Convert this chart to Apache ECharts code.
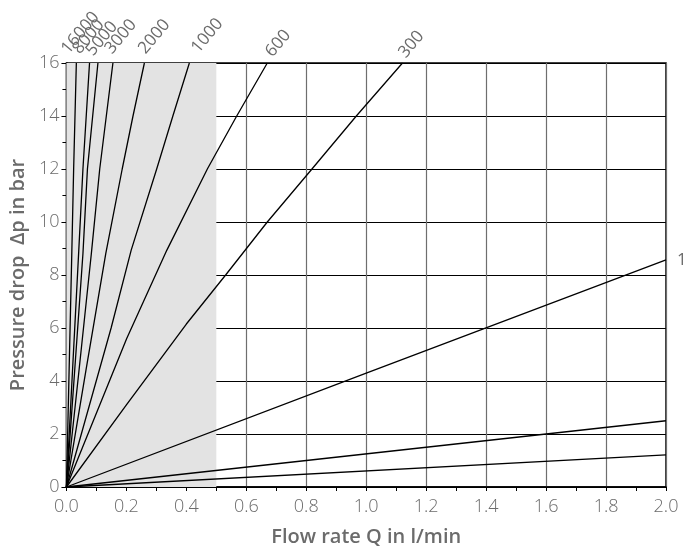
<!DOCTYPE html>
<html><head><meta charset="utf-8">
<script src="https://cdn.jsdelivr.net/npm/echarts@6/dist/echarts.min.js"></script>
<style>html,body{margin:0;padding:0;background:#fff}#c{width:683px;height:554px}</style>
</head><body><div id="c"></div>
<script>
// Viscosity labels of the curves
const curveLabels = ['16000', '8000', '5000', '3000', '2000', '1000', '600', '300', '100', '', ''];
// Flow rate Q (l/min) and pressure drop (bar), one pair per curve
const q16000 = [0, 0.018, 0.024, 0.033];
const dp16000 = [0, 8.9, 12, 16];
const q8000 = [0, 0.041, 0.055, 0.077];
const dp8000 = [0, 8.9, 12, 16];
const q5000 = [0, 0.055, 0.07, 0.105];
const dp5000 = [0, 8.8, 12, 16];
const q3000 = [0, 0.04, 0.083, 0.111, 0.155];
const dp3000 = [0, 4.2, 8.8, 12, 16];
const q2000 = [0, 0.065, 0.131, 0.186, 0.222, 0.26];
const dp2000 = [0, 4.4, 8.8, 12, 14, 16];
const q1000 = [0, 0.149, 0.216, 0.301, 0.355, 0.41];
const dp1000 = [0, 6, 8.94, 12, 14, 16];
const q600 = [0, 0.201, 0.335, 0.47, 0.568, 0.67];
const dp600 = [0, 5.6, 8.94, 12, 14, 16];
const q300 = [0, 0.2, 0.4, 0.531, 0.67, 0.819, 0.967, 1.121];
const dp300 = [0, 3.1, 6.15, 8, 10, 12, 14, 16];
const q100 = [0, 1.0, 2.0];
const dp100 = [0, 4.3, 8.57];
const q30 = [0, 2.0];
const dp30 = [0, 2.5];
const q10 = [0, 2.0];
const dp10 = [0, 1.21];
// Shaded range on the flow axis
const shadedRange = [0, 0.5];

const curvesQ = [q16000, q8000, q5000, q3000, q2000, q1000, q600, q300, q100, q30, q10];
const curvesDp = [dp16000, dp8000, dp5000, dp3000, dp2000, dp1000, dp600, dp300, dp100, dp30, dp10];

// label styling (offsets from the curve end, in pixels)
const labelOffsets = [[-5,-6],[-7,-6],[-2,-4],[2,-6],[4,-6],[12,-7],[8,-3],[6,-2],[11,0],[0,0],[0,0]];

const FONT = '"Open Sans", Lato, sans-serif';
const GREY = '#6b6b6b';

const series = curvesQ.map((qs, k) => {
  const dps = curvesDp[k];
  const data = qs.map((q, i) => {
    const item = { value: [q, dps[i]] };
    if (i === qs.length - 1 && curveLabels[k]) {
      const right = k === 8;
      item.label = {
        show: true,
        formatter: curveLabels[k],
        position: labelOffsets[k],
        rotate: right ? 0 : 50,
        align: 'left',
        verticalAlign: right ? 'middle' : 'bottom',
        color: GREY,
        fontSize: 17,
        fontFamily: FONT
      };
    }
    return item;
  });
  return {
    type: 'line',
    data: data,
    symbol: 'circle',
    symbolSize: 0,
    showSymbol: true,
    clip: false,
    silent: true,
    lineStyle: { color: '#000', width: 1.3 },
    itemStyle: { color: '#000' },
    label: { show: false },
    z: 3
  };
});

series.push({
  type: 'line',
  data: [],
  z: -1,
  silent: true,
  markArea: {
    silent: true,
    itemStyle: { color: '#e3e3e3' },
    data: [[{ xAxis: shadedRange[0] }, { xAxis: shadedRange[1] }]]
  }
});

const chart = echarts.init(document.getElementById('c'), null, { renderer: 'canvas' });
chart.setOption({
  animation: false,
  backgroundColor: '#fff',
  grid: { left: 66, right: 17, top: 63, bottom: 67, show: true, borderColor: '#000', borderWidth: 1.5, backgroundColor: 'transparent', z: 0 },
  xAxis: {
    type: 'value', min: 0, max: 2, interval: 0.2,
    name: 'Flow rate Q in l/min', nameLocation: 'middle', nameGap: 40,
    nameTextStyle: { color: GREY, fontSize: 20, fontWeight: 600, fontFamily: FONT },
    axisLine: { lineStyle: { color: '#000', width: 1.5 } },
    axisTick: { show: true, inside: false, length: 4, lineStyle: { color: '#000' } },
    minorTick: { show: true, splitNumber: 2, length: 4, lineStyle: { color: '#000' } },
    axisLabel: { color: GREY, fontSize: 18, fontWeight: 300, fontFamily: FONT, margin: 11, formatter: v => v.toFixed(1) },
    splitLine: { show: true, lineStyle: { color: '#6e6e6e', width: 1.2 } }
  },
  yAxis: {
    type: 'value', min: 0, max: 16, interval: 2,
    name: 'Pressure drop  Δp in bar', nameLocation: 'middle', nameGap: 33, nameRotate: 90,
    nameTextStyle: { color: GREY, fontSize: 20, fontWeight: 600, fontFamily: FONT },
    axisLine: { lineStyle: { color: '#000', width: 1.5 } },
    axisTick: { show: true, inside: false, length: 5, lineStyle: { color: '#000' } },
    minorTick: { show: true, splitNumber: 2, length: 4, lineStyle: { color: '#000' } },
    axisLabel: { color: GREY, fontSize: 18, fontWeight: 300, fontFamily: FONT, margin: 7 },
    splitLine: { show: true, lineStyle: { color: '#000', width: 1 } }
  },
  series: series
});
</script>
</body></html>
